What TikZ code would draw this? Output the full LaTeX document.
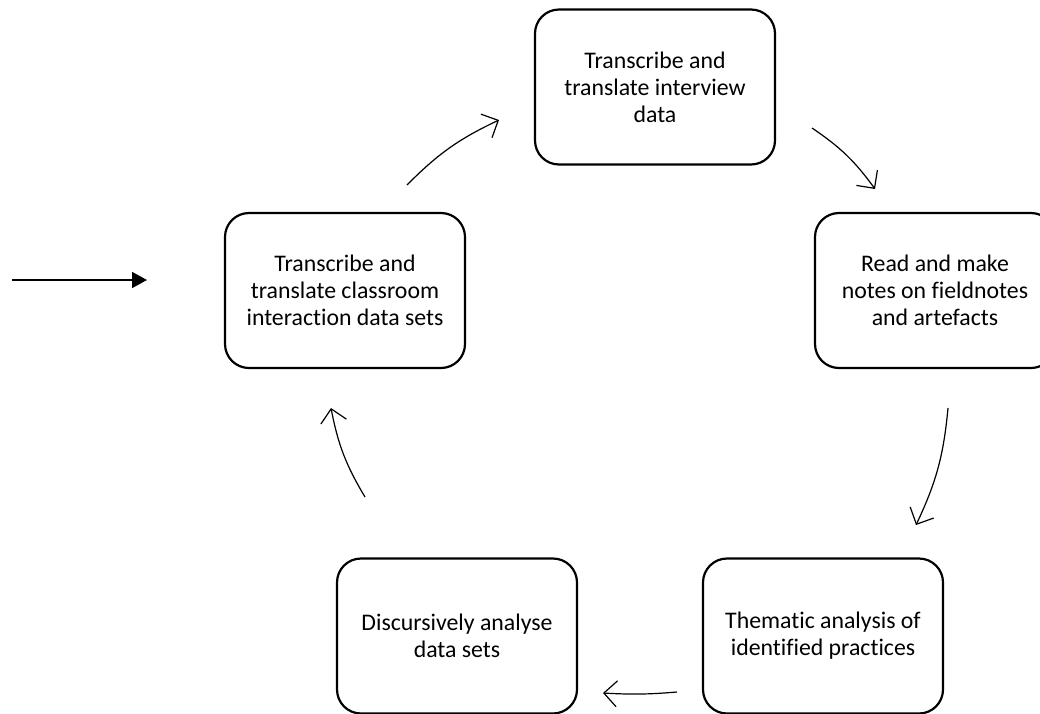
\documentclass[tikz,border=0pt]{standalone}
\usepackage{fontspec}
\setmainfont[Ligatures=NoCommon]{Carlito}
\usetikzlibrary{arrows.meta}
\begin{document}
\begin{tikzpicture}[x=1pt,y=-1pt,
  stagebox/.style={draw=black, line width=2.2pt, rounded corners=24pt, fill=white,
    minimum width=240pt, minimum height=155pt, align=center,
    font=\fontsize{23.8}{27}\selectfont, inner sep=0pt},
  flow/.style={line width=1.2pt, -{Straight Barb[length=13pt,width=26pt,line width=1.2pt]}},
  entry/.style={line width=1.5pt, -{Triangle[length=15pt,width=16pt]}}]
\useasboundingbox (0,0) rectangle (1040,713);
\clip (0,0) rectangle (1040,713);
\fill[white] (0,0) rectangle (1040,713);
\node[stagebox] (top) at (655,87) {Transcribe and\\translate interview\\data};
\node[stagebox] (left) at (345,290.5) {Transcribe and\\translate classroom\\interaction data sets};
\node[stagebox] (right) at (935,290.5) {Read and make\\notes on fieldnotes\\and artefacts};
\node[stagebox] (bl) at (457,636) {Discursively analyse\\data sets};
\node[stagebox] (br) at (823,636) {Thematic analysis of\\identified practices};
\coordinate (in0) at (12,280);
\coordinate (in1) at (147,280);
\coordinate (a1s) at (407,185); \coordinate (a1e) at (499,120);
\coordinate (a2s) at (812,128); \coordinate (a2e) at (875,189);
\coordinate (a3s) at (948,408); \coordinate (a3e) at (916,525);
\coordinate (a4s) at (677,692); \coordinate (a4e) at (603,693);
\coordinate (a5s) at (365,497); \coordinate (a5e) at (331,408);
\draw[entry] (in0) -- (in1);
\draw[flow] (a1s) to[bend left=10] (a1e);
\draw[flow] (a2s) to[bend left=10] (a2e);
\draw[flow] (a3s) to[bend left=10] (a3e);
\draw[flow] (a4s) to[bend left=4] (a4e);
\draw[flow] (a5s) to[bend left=10] (a5e);
\end{tikzpicture}
\end{document}
